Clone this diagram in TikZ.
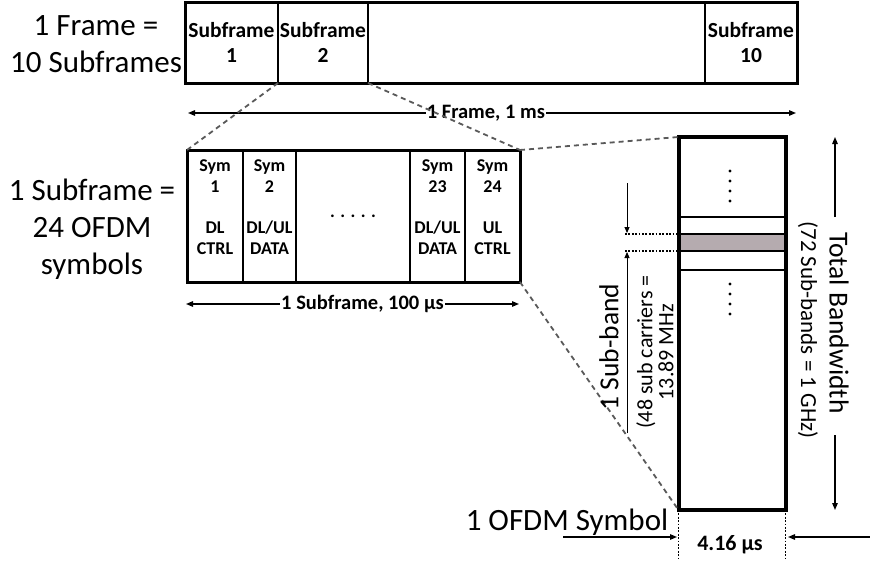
\documentclass[tikz,border=0pt]{standalone}
\usepackage{fontspec}
\setmainfont{Carlito}
\usepackage{xcolor}
\usetikzlibrary{arrows.meta,positioning}
\definecolor{bandgray}{RGB}{181,171,175}

\begin{document}
\begin{tikzpicture}[
    x=1pt, y=-1pt,
    bigtxt/.style={align=center, inner sep=0pt, font=\fontsize{31}{37}\selectfont},
    midtxt/.style={align=center, inner sep=0pt, font=\fontsize{27.5}{31}\selectfont},
    smalltxt/.style={align=center, inner sep=0pt, font=\fontsize{22}{21}\selectfont},
    cell/.style={draw, line width=1.5pt, inner sep=0pt, outer sep=0pt, align=center},
    sfcell/.style={cell, minimum height=81, font=\fontsize{21.5}{25}\bfseries\selectfont},
    symcell/.style={cell, minimum height=132, font=\fontsize{18}{21}\bfseries\selectfont},
    symtxt/.style={align=center, inner sep=0pt, font=\fontsize{18}{21.5}\bfseries\selectfont},
    band/.style={draw, line width=2pt, minimum width=107, inner sep=0pt, outer sep=0pt},
    lbl/.style={fill=white, inner sep=1pt, font=\fontsize{20.5}{22}\bfseries\selectfont},
    arr/.style={-{Triangle[length=7pt,width=5.5pt]}, line width=1.3pt},
    dblarr/.style={{Triangle[length=7pt,width=5.5pt]}-{Triangle[length=7pt,width=5.5pt]}, line width=1.3pt},
    thinarr/.style={-{Triangle[length=6pt,width=5pt]}, line width=0.9pt},
    zoomline/.style={draw=black!65, line width=1.8pt, dash pattern=on 5pt off 4pt},
    dotline/.style={line width=1.8pt, dash pattern=on 1.8pt off 1.6pt}
  ]
  \useasboundingbox (0,0) rectangle (870,560);

  % frame of 10 subframes
  \node[bigtxt] (frtxt) at (96,44) {1 Frame =\\10 Subframes};
  \node[sfcell, minimum width=93] (sf1) at (231.5,42.5) {Subframe\\1};
  \node[sfcell, minimum width=90, right=0pt of sf1] (sf2) {Subframe\\2};
  \node[sfcell, minimum width=337, right=0pt of sf2] (sfmid) {};
  \node[sfcell, minimum width=92, right=0pt of sfmid] (sf10) {Subframe\\10};
  \draw[line width=3pt] (sf1.north west) rectangle (sf10.south east);

  \coordinate (fl) at (188,113);
  \coordinate (fr) at (796,113);
  \draw[dblarr] (fl) -- node[lbl, pos=0.49] (flbl) {1 Frame, 1 ms} (fr);

  % subframe of 24 symbols
  \node[bigtxt] (sftxt) at (92,229) {1 Subframe =\\24 OFDM\\symbols};
  \node[symcell, minimum width=56] (s1) at (215,216) {};
  \node[symcell, minimum width=53, right=0pt of s1] (s2) {};
  \node[symcell, minimum width=114, right=0pt of s2] (sdots) {. . . . .};
  \node[symcell, minimum width=55, right=0pt of sdots] (s23) {};
  \node[symcell, minimum width=55, right=0pt of s23] (s24) {};
  \draw[line width=3pt] (s1.north west) rectangle (s24.south east);

  \node[symtxt, below=9pt of s1.north] (s1t) {Sym\\1\\[19pt]DL\\CTRL};
  \node[symtxt, below=9pt of s2.north] (s2t) {Sym\\2\\[19pt]DL/UL\\DATA};
  \node[symtxt, below=9pt of s23.north] (s23t) {Sym\\23\\[19pt]DL/UL\\DATA};
  \node[symtxt, below=9pt of s24.north] (s24t) {Sym\\24\\[19pt]UL\\CTRL};

  \coordinate (sl) at (186,304);
  \coordinate (sr) at (519,304);
  \draw[dblarr] (sl) -- node[lbl, pos=0.53] (slbl) {1 Subframe, 100 µs} (sr);

  % one symbol, all sub-bands
  \node[inner sep=0pt, outer sep=0pt, minimum width=107, minimum height=373] (bw) at (732,323.5) {};
  \node[band, minimum height=17, below=80pt of bw.north] (b1) {};
  \node[band, minimum height=17, fill=bandgray, below=0pt of b1] (sb) {};
  \node[band, minimum height=19, below=0pt of sb] (b2) {};
  \draw[line width=4pt] (bw.north west) rectangle (bw.south east);
  \foreach \y in {171,181,191,201,284,294,304,314}
    \fill (730,\y) circle (1.7pt);

  % zoom lines
  \draw[zoomline] (sf1.south east) -- (s1.north west);
  \draw[zoomline] (sf2.south east) -- (s24.north east);
  \draw[zoomline] (s24.north east) -- (bw.north west);
  \draw[zoomline] (s24.south east) -- (bw.south west);

  % sub-band
  \coordinate (dt) at (625,234);
  \coordinate (db) at (625,251);
  \draw[dotline] (dt) -- (sb.north west);
  \draw[dotline] (db) -- (sb.south west);
  \coordinate (da) at (627,183);
  \coordinate (dat) at (627,233);
  \coordinate (ua) at (627,433);
  \coordinate (uat) at (627,252);
  \draw[thinarr] (da) -- (dat);
  \draw[thinarr] (ua) -- (uat);
  \node[midtxt, rotate=90] (sbl) at (609,347) {1 Sub-band};
  \node[smalltxt, rotate=90] (sbi) at (655,352) {(48 sub carriers =\\13.89 MHz};

  % total bandwidth
  \coordinate (tu) at (835,217);
  \coordinate (tut) at (835,137);
  \coordinate (td) at (835,435);
  \coordinate (tdt) at (835,510);
  \draw[arr] (tu) -- (tut);
  \draw[arr] (td) -- (tdt);
  \node[midtxt, rotate=-90] (tbw) at (839,323) {Total Bandwidth};
  \node[smalltxt, font=\fontsize{23}{25}\selectfont, rotate=-90] (tbwi) at (808,330) {(72 Sub-bands = 1 GHz)};

  % symbol duration
  \coordinate (bl) at (678.5,560);
  \coordinate (br) at (785.5,560);
  \draw[dotline] (bw.south west) -- (bl);
  \draw[dotline] (bw.south east) -- (br);
  \coordinate (ol) at (563,537);
  \coordinate (olt) at (677,537);
  \coordinate (or) at (870,537);
  \coordinate (ort) at (788,537);
  \draw[arr] (ol) -- (olt);
  \draw[arr] (or) -- (ort);
  \node[lbl, fill=none, font=\fontsize{22}{24}\bfseries\selectfont] (dur) at (730,545) {4.16 µs};
  \node[bigtxt] (ofdm) at (567,522) {1 OFDM Symbol};
\end{tikzpicture}
\end{document}
